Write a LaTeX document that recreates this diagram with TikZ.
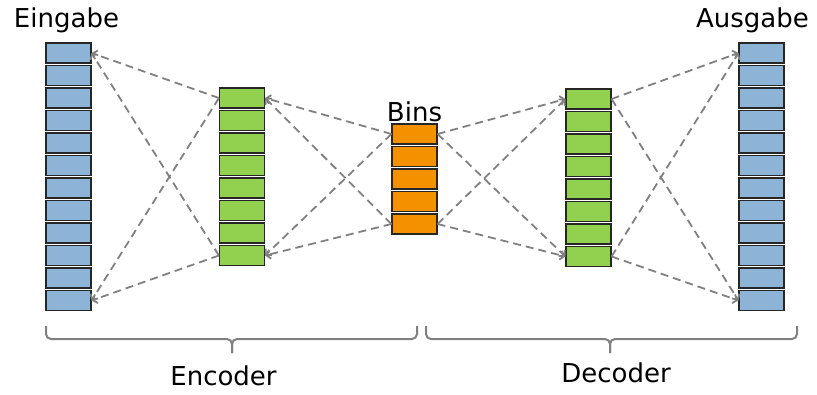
\documentclass[tikz,border=0pt]{standalone}
\usepackage{fontspec}
\setmainfont{DejaVu Sans}
\usetikzlibrary{arrows.meta}
\definecolor{layblue}{RGB}{141,180,214}
\definecolor{laygreen}{RGB}{146,208,80}
\definecolor{binorange}{RGB}{244,145,0}
\definecolor{linegray}{RGB}{128,128,128}
\definecolor{edgedark}{RGB}{38,38,38}
\tikzset{
  cell/.style={rectangle,draw=edgedark,line width=1.1pt,minimum width=45pt,minimum height=20pt,inner sep=0pt},
  incell/.style={cell,fill=layblue},
  enccell/.style={cell,fill=laygreen},
  bincell/.style={cell,fill=binorange},
  lbl/.style={font=\fontsize{26}{30}\selectfont,inner sep=0pt,anchor=base},
  dasharr/.style={-{Straight Barb[length=4pt,width=9pt]},dash pattern=on 8pt off 5pt,line width=1.8pt,color=linegray},
  bracket/.style={line width=2pt,color=linegray,rounded corners=5pt}
}

\begin{document}
\begin{tikzpicture}[x=1pt,y=-1pt]
  \useasboundingbox (0,0) rectangle (817,394);

  %% Layers
  \foreach \i in {1,...,12}
    \node[incell] (in\i) at (68.5,{53+22.5*(\i-1)}) {};
  \foreach \i in {1,...,8}
    \node[enccell] (enc\i) at (242,{98+22.5*(\i-1)}) {};
  \foreach \i in {1,...,5}
    \node[bincell] (bin\i) at (414.5,{134+22.5*(\i-1)}) {};
  \foreach \i in {1,...,8}
    \node[enccell] (dec\i) at (588.5,{99+22.5*(\i-1)}) {};
  \foreach \i in {1,...,12}
    \node[incell] (out\i) at (761.5,{53+22.5*(\i-1)}) {};

  %% Labels
  \node[lbl] (inlbl) at (66.5,27) {Eingabe};
  \node[lbl] (outlbl) at (752.5,27) {Ausgabe};
  \node[lbl] (binlbl) at (414.5,121) {Bins};
  \node[lbl] (enclbl) at (223.5,385) {Encoder};
  \node[lbl] (declbl) at (616,382) {Decoder};

  %% Connections
  \foreach \a in {1,8} \foreach \b in {1,12}
    \draw[dasharr] (enc\a.west) -- (in\b.east);
  \foreach \a in {1,5} \foreach \b in {1,8}
    \draw[dasharr] (bin\a.west) -- (enc\b.east);
  \foreach \a in {1,5} \foreach \b in {1,8}
    \draw[dasharr] (bin\a.east) -- (dec\b.west);
  \foreach \a in {1,8} \foreach \b in {1,12}
    \draw[dasharr] (dec\a.east) -- (out\b.west);

  %% Braces
  \draw[bracket] (46,326) -- (46,339) -- (232,339) -- (232,353);
  \draw[bracket] (232,353) -- (232,339) -- (417,339) -- (417,326);
  \draw[bracket] (426,326) -- (426,339) -- (610,339) -- (610,353);
  \draw[bracket] (610,353) -- (610,339) -- (797,339) -- (797,326);
\end{tikzpicture}
\end{document}
